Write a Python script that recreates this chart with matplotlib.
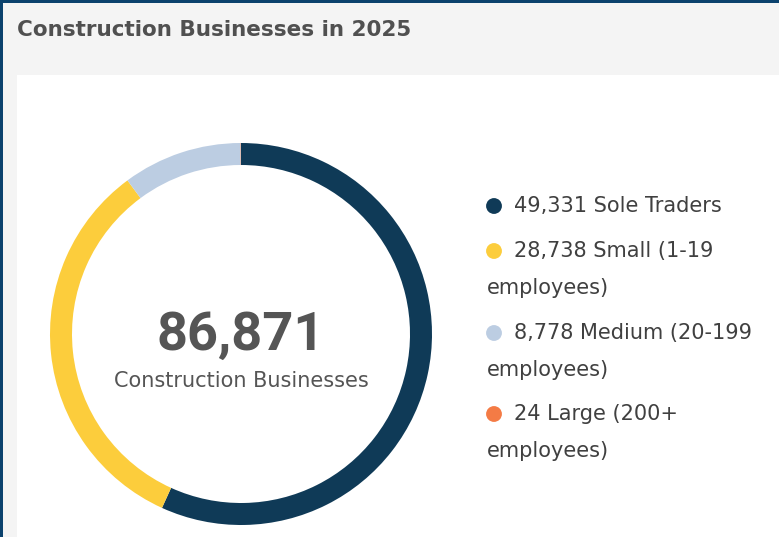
import matplotlib.pyplot as plt
from matplotlib.patches import Rectangle

categories = ["Sole Traders", "Small (1-19 employees)", "Medium (20-199 employees)", "Large (200+ employees)"]
values = [49331, 28738, 8778, 24]
colors = ["#0f3a57", "#fccd3c", "#bccde2", "#f47b45"]
total = sum(values)

title = "Construction Businesses in 2025"
center_label = "Construction Businesses"

W, H = 779, 537
plt.rcParams["font.family"] = ["DejaVu Sans"]
fig = plt.figure(figsize=(W / 100, H / 100), dpi=100, facecolor="#0b426d")

# page backgrounds: grey card on navy frame, white panel inside
fig.patches.append(Rectangle((3 / W, 0), 1, (H - 3) / H, transform=fig.transFigure,
                             facecolor="#f4f4f4", edgecolor="none", zorder=-10))
fig.patches.append(Rectangle((17 / W, 0), 1, (H - 75) / H, transform=fig.transFigure,
                             facecolor="white", edgecolor="none", zorder=-9))

fig.text(17 / W, 1 - 30 / H, title, fontsize=15.5, fontweight="bold",
         color="#505050", va="center", ha="left")

# donut
cx, cy, r = 241, 334, 191
ax = fig.add_axes([(cx - r) / W, (H - cy - r) / H, 2 * r / W, 2 * r / H])
ax.pie(values, colors=colors, startangle=90, counterclock=False, radius=1,
       wedgeprops=dict(width=22 / r, edgecolor="none"))
ax.set_xlim(-1, 1)
ax.set_ylim(-1, 1)
ax.set_aspect("equal")
ax.axis("off")
ax.text(0, -0.005, f"{total:,}", ha="center", va="center", fontsize=39,
        fontweight="bold", color="#555555", family="Roboto")
ax.text(0, -0.245, center_label, ha="center", va="center", fontsize=15,
        color="#555555")

# legend, drawn in pixel space
lax = fig.add_axes([0, 0, 1, 1])
lax.set_xlim(0, W)
lax.set_ylim(H, 0)
lax.axis("off")
rows = [206, 251, 333, 414]
fs = 15
for y, cat, val, col in zip(rows, categories, values, colors):
    lax.scatter([494], [y], s=130, color=col, edgecolor="none")
    if "(" in cat:
        first, rest = cat.split(" employees")
        lax.text(514, y, f"{val:,} {first}", fontsize=fs, color="#404040", va="center")
        lax.text(487, y + 37, "employees" + rest, fontsize=fs, color="#404040", va="center")
    else:
        lax.text(514, y, f"{val:,} {cat}", fontsize=fs, color="#404040", va="center")

fig.savefig("out.png", dpi=100)
